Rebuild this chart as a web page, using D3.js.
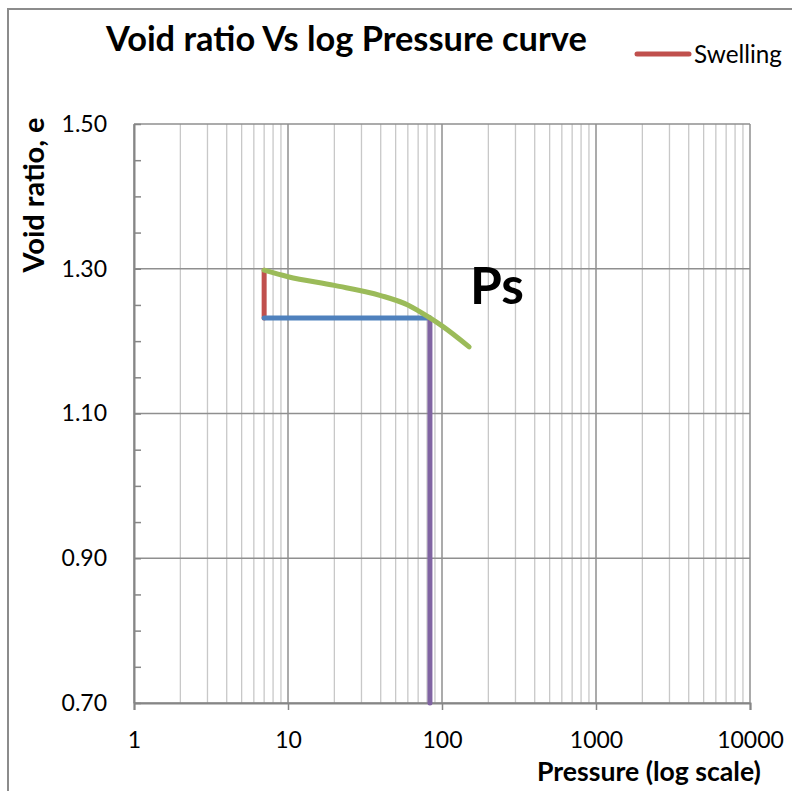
<!DOCTYPE html>
<html>
<head>
<meta charset="utf-8">
<script src="https://cdn.jsdelivr.net/npm/d3@7"></script>
<style>
  body { margin: 0; background: #fff; }
  text { font-family: Lato, "Open Sans", sans-serif; fill: #000; }
</style>
</head>
<body>
<div id="chart"></div>
<script>
// Swelling test: void ratio vs pressure (log)
let compressionP = [7, 10, 20, 40, 60, 83.5, 100, 150];
let compressionE = [1.298, 1.289, 1.277, 1.263, 1.250, 1.232, 1.221, 1.192];

let swellingP = [7, 7];
let swellingE = [1.298, 1.232];

let horizP = [7, 83.5];
let horizE = [1.232, 1.232];

let verticalP = [83.5, 83.5];
let verticalE = [1.232, 0.70];

let xTickLabels = [1, 10, 100, 1000, 10000];
let yTickLabels = [0.70, 0.90, 1.10, 1.30, 1.50];

let width = 792, height = 791;

let svg = d3.select("#chart")
  .append("svg")
  .attr("width", width)
  .attr("height", height);

// chart frame (runs off the right / bottom edge)
svg.append("rect")
  .attr("x", 8).attr("y", 9)
  .attr("width", 820).attr("height", 820)
  .attr("fill", "none")
  .attr("stroke", "#8c8c8c")
  .attr("stroke-width", 2);

let x = d3.scaleLog().domain([1, 10000]).range([134, 750]);
let y = d3.scaleLinear().domain([0.70, 1.50]).range([703, 124]);

// vertical grid: every 1..9 of each decade
let minorX = [];
for (let k = 0; k < 4; k++) {
  for (let m = 2; m <= 9; m++) minorX.push(m * Math.pow(10, k));
}
svg.append("g").selectAll("line")
  .data(minorX)
  .enter()
  .append("line")
  .attr("x1", d => x(d)).attr("x2", d => x(d))
  .attr("y1", y(1.5)).attr("y2", y(0.7))
  .attr("stroke", "#c8c8c8")
  .attr("stroke-width", 1.3);

svg.append("g").selectAll("line")
  .data(xTickLabels)
  .enter()
  .append("line")
  .attr("x1", d => x(d)).attr("x2", d => x(d))
  .attr("y1", y(1.5)).attr("y2", y(0.7))
  .attr("stroke", "#8f8f8f")
  .attr("stroke-width", 1.5);

// horizontal major grid
svg.append("g").selectAll("line")
  .data(yTickLabels)
  .enter()
  .append("line")
  .attr("x1", x(1)).attr("x2", x(10000))
  .attr("y1", d => y(d)).attr("y2", d => y(d))
  .attr("stroke", "#8f8f8f")
  .attr("stroke-width", 1.5);

// x axis
let xAxis = svg.append("g")
  .attr("transform", "translate(0," + y(0.7) + ")")
  .call(d3.axisBottom(x)
    .tickValues(xTickLabels)
    .tickFormat(d3.format("d"))
    .tickSize(7)
    .tickPadding(22));
xAxis.select(".domain").attr("stroke", "#868686").attr("stroke-width", 2);
xAxis.selectAll(".tick line").attr("stroke", "#868686").attr("stroke-width", 1.5);
xAxis.selectAll("text").attr("font-size", 23).attr("font-family", "Lato");

// y axis labels
let yAxis = svg.append("g")
  .attr("transform", "translate(" + x(1) + ",0)")
  .call(d3.axisLeft(y)
    .tickValues(yTickLabels)
    .tickFormat(d3.format(".2f"))
    .tickSize(0)
    .tickPadding(27));
yAxis.select(".domain").attr("stroke", "#868686").attr("stroke-width", 2);
yAxis.selectAll("text").attr("font-size", 23).attr("font-family", "Lato");

// y minor ticks, inside
let yMinor = d3.range(0, 17).map(i => 0.70 + i * 0.05);
svg.append("g")
  .attr("transform", "translate(" + x(1) + ",0)")
  .call(d3.axisRight(y).tickValues(yMinor).tickSize(7).tickFormat(""))
  .call(g => g.select(".domain").remove())
  .selectAll(".tick line")
  .attr("stroke", "#868686")
  .attr("stroke-width", 1.5);

// series
let line = d3.line()
  .x(d => x(d[0]))
  .y(d => y(d[1]));

function drawSeries(ps, es, color, curve) {
  let pts = d3.zip(ps, es);
  svg.append("path")
    .datum(pts)
    .attr("d", line.curve(curve || d3.curveLinear))
    .attr("fill", "none")
    .attr("stroke", color)
    .attr("stroke-width", 5)
    .attr("stroke-linecap", "round")
    .attr("stroke-linejoin", "round");
}

drawSeries(swellingP, swellingE, "#c0504d");
drawSeries(horizP, horizE, "#4f81bd");
drawSeries(verticalP, verticalE, "#8064a2");
drawSeries(compressionP, compressionE, "#9bbb59", d3.curveMonotoneX);

// text helper: scale font so the text spans w pixels
function fitWidth(sel, w) {
  let cur = sel.node().getComputedTextLength();
  let fs = parseFloat(sel.attr("font-size"));
  sel.attr("font-size", fs * w / cur);
}

let title = svg.append("text")
  .attr("x", 106).attr("y", 51)
  .attr("font-size", 30)
  .attr("font-weight", "bold")
  .text("Void ratio Vs log Pressure curve");
fitWidth(title, 481);

let yLabel = svg.append("text")
  .attr("transform", "translate(44,195) rotate(-90)")
  .attr("text-anchor", "middle")
  .attr("font-size", 20)
  .attr("font-weight", "bold")
  .text("Void ratio, e");
fitWidth(yLabel, 155);

let xLabel = svg.append("text")
  .attr("x", 537).attr("y", 781)
  .attr("font-size", 22)
  .attr("font-weight", "bold")
  .text("Pressure (log scale)");
fitWidth(xLabel, 224);

let ps = svg.append("text")
  .attr("x", 470).attr("y", 304)
  .attr("font-size", 38)
  .attr("font-weight", "bold")
  .text("Ps");
fitWidth(ps, 54);

// legend
svg.append("line")
  .attr("x1", 637).attr("x2", 689)
  .attr("y1", 54).attr("y2", 54)
  .attr("stroke", "#c0504d")
  .attr("stroke-width", 5)
  .attr("stroke-linecap", "round");

let legendText = svg.append("text")
  .attr("x", 694).attr("y", 63)
  .attr("font-size", 22)
  .text("Swelling");
fitWidth(legendText, 88);
</script>
</body>
</html>
